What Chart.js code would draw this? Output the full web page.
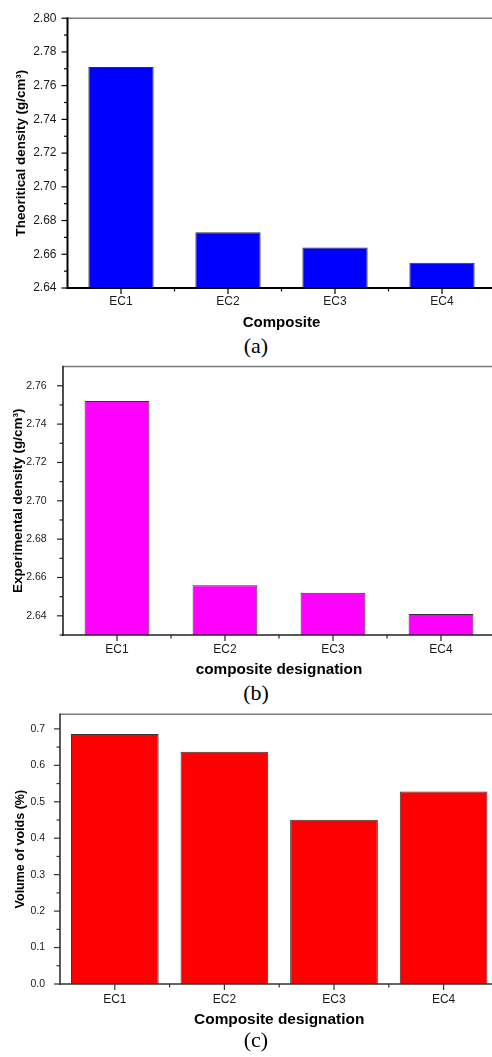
<!DOCTYPE html>
<html>
<head>
<meta charset="utf-8">
<script src="https://cdn.jsdelivr.net/npm/chart.js@4.4.1/dist/chart.umd.min.js"></script>
<style>
  html, body { margin: 0; padding: 0; background: #fff; overflow: hidden; }
  #wrap { position: relative; width: 492px; height: 1057px; overflow: hidden; }
  canvas { position: absolute; left: 0; }
  .cap { position: absolute; left: 0; width: 512px; text-align: center; font: 22px/22px "Liberation Serif", serif; color: #000; }
</style>
</head>
<body>
<div id="wrap">
<canvas id="chartA" width="500" height="333" style="top:0px"></canvas>
<div class="cap" style="top:334.5px">(a)</div>
<canvas id="chartB" width="500" height="336" style="top:344px"></canvas>
<div class="cap" style="top:681.5px">(b)</div>
<canvas id="chartC" width="500" height="336" style="top:693px"></canvas>
<div class="cap" style="top:1028.7px">(c)</div>
</div>
<script>
var categories = ['EC1', 'EC2', 'EC3', 'EC4'];
var theoreticalDensity = [2.771, 2.673, 2.664, 2.655];
var experimentalDensity = [2.752, 2.656, 2.652, 2.641];
var voidVolume = [0.686, 0.637, 0.451, 0.528];

var yTicksA = [2.64, 2.66, 2.68, 2.70, 2.72, 2.74, 2.76, 2.78, 2.80];
var yTicksB = [2.64, 2.66, 2.68, 2.70, 2.72, 2.74, 2.76];
var yTicksC = [0.0, 0.1, 0.2, 0.3, 0.4, 0.5, 0.6, 0.7];

// axis lines, top frame and major/minor tick marks, drawn from the chart's scales
var framePlugin = {
  id: 'frame',
  afterDraw: function (chart, args, o) {
    var a = chart.chartArea, ctx = chart.ctx;
    var xs = chart.scales.x, ys = chart.scales.y;
    function seg(x1, y1, x2, y2) { ctx.beginPath(); ctx.moveTo(x1, y1); ctx.lineTo(x2, y2); ctx.stroke(); }
    ctx.save();
    ctx.strokeStyle = o.frameColor; ctx.lineWidth = 1.5;
    seg(a.left, a.top, a.right + 5, a.top);
    ctx.strokeStyle = o.axisColor; ctx.lineWidth = o.axisWidth;
    seg(a.left, a.top - 0.75, a.left, a.bottom + 1);
    seg(a.left - 1, a.bottom, a.right + 5, a.bottom);

    ctx.lineWidth = 1.2;
    var vals = ys.ticks.map(function (t) { return t.value; });
    vals.forEach(function (v) {
      var p = ys.getPixelForValue(v);
      seg(a.left - 6, p, a.left, p);
    });
    var half = (vals[1] - vals[0]) / 2;
    var minors = [vals[0] - half].concat(vals.map(function (v) { return v + half; }));
    minors.forEach(function (v) {
      if (v < ys.min - 1e-9 || v > ys.max - 1e-9) return;
      var p = ys.getPixelForValue(v);
      seg(a.left - 3.5, p, a.left, p);
    });

    var n = xs.ticks.length;
    for (var i = 0; i < n; i++) {
      var px = xs.getPixelForTick(i);
      seg(px, a.bottom, px, a.bottom + 6);
      if (i < n - 1) {
        var mid = (px + xs.getPixelForTick(i + 1)) / 2;
        seg(mid, a.bottom, mid, a.bottom + 3.5);
      }
    }
    ctx.restore();
  }
};

function makeChart(id, values, color, yMin, yMax, yTicks, decimals, d) {
  var ctx = document.getElementById(id).getContext('2d');
  return new Chart(ctx, {
    type: 'bar',
    data: {
      labels: categories,
      datasets: [{
        data: values,
        backgroundColor: color,
        borderColor: '#333',
        borderWidth: 1,
        categoryPercentage: 1,
        barPercentage: d.barPct
      }]
    },
    options: {
      responsive: false,
      animation: false,
      layout: { padding: { top: 18, right: d.right, bottom: 0, left: 0 } },
      plugins: {
        legend: { display: false },
        tooltip: { enabled: false },
        frame: { frameColor: '#7a7a7a', axisColor: d.axisColor, axisWidth: d.axisWidth }
      },
      scales: {
        x: {
          grid: { display: false, drawTicks: false },
          border: { display: false },
          ticks: { color: '#1a1a1a', font: { family: 'Liberation Sans', size: 12 }, padding: d.xTickPad },
          title: {
            display: true, text: d.xTitle, color: '#000',
            font: { family: 'Liberation Sans', size: d.xTitleSize, weight: 'bold' },
            padding: { top: 0, bottom: d.xTitlePad }
          },
          afterFit: function (s) { s.height = d.xHeight; }
        },
        y: {
          min: yMin,
          max: yMax,
          grid: { display: false, drawTicks: false },
          border: { display: false },
          afterBuildTicks: function (s) {
            s.ticks = yTicks.map(function (v) { return { value: v }; });
          },
          ticks: {
            autoSkip: false,
            color: '#1a1a1a',
            font: { family: 'Liberation Sans', size: d.yTickSize },
            padding: d.yTickPad,
            callback: function (v) { return Number(v).toFixed(decimals); }
          },
          title: {
            display: true, text: d.yTitle, color: '#000',
            font: { family: 'Liberation Sans', size: d.yTitleSize, weight: 'bold' },
            padding: { top: d.yTitlePad, bottom: 0 }
          },
          afterFit: function (s) { s.width = d.yWidth; }
        }
      }
    },
    plugins: [framePlugin]
  });
}

makeChart('chartA', theoreticalDensity, '#0000ff', 2.64, 2.80, yTicksA, 2, {
  barPct: 0.61, right: 4.5, yWidth: 67.5, xHeight: 45,
  axisColor: '#000', axisWidth: 2,
  yTickSize: 12, yTickPad: 11, yTitle: 'Theoritical density (g/cm\u00b3)', yTitleSize: 13.4, yTitlePad: 13,
  xTickPad: 6.8, xTitle: 'Composite', xTitleSize: 15, xTitlePad: 1.3
});

makeChart('chartB', experimentalDensity, '#ff00ff', 2.63, 2.77, yTicksB, 2, {
  barPct: 0.6, right: 5, yWidth: 63, xHeight: 45,
  axisColor: '#222', axisWidth: 1.6,
  yTickSize: 10.5, yTickPad: 16.3, yTitle: 'Experimental density (g/cm\u00b3)', yTitleSize: 13.5, yTitlePad: 10,
  xTickPad: 7.5, xTitle: 'composite designation', xTitleSize: 15.3, xTitlePad: 1
});

makeChart('chartC', voidVolume, '#ff0000', 0, 0.74, yTicksC, 1, {
  barPct: 0.8, right: 1.6, yWidth: 60, xHeight: 45,
  axisColor: '#333', axisWidth: 1.6,
  yTickSize: 10.5, yTickPad: 15, yTitle: 'Volume of voids (%)', yTitleSize: 12.5, yTitlePad: 13,
  xTickPad: 8, xTitle: 'Composite designation', xTitleSize: 15.4, xTitlePad: 0.5
});
</script>
</body>
</html>
